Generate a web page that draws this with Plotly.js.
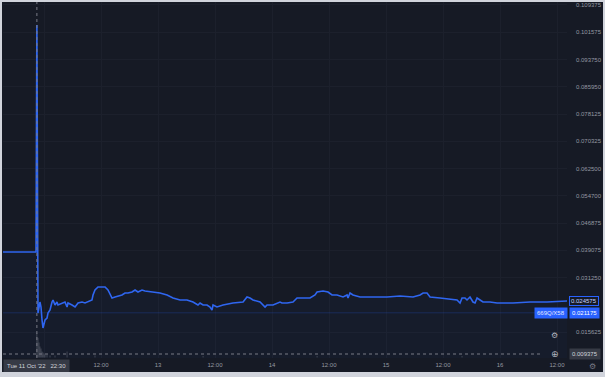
<!DOCTYPE html>
<html>
<head>
<meta charset="utf-8">
<script src="https://cdn.plot.ly/plotly-3.0.1.min.js"></script>
<style>
  html, body { margin: 0; padding: 0; background: #d1d4dc; width: 605px; height: 377px; overflow: hidden; }
  #chart { position: absolute; left: 2px; top: 2px; width: 601px; height: 370px; }
</style>
</head>
<body>
<div id="chart"></div>
<script>
// ---- data ----
const times = [
  '2022-10-11 15:00','2022-10-11 22:19','2022-10-11 22:30','2022-10-11 22:44','2022-10-11 23:09','2022-10-11 23:22',
  '2022-10-11 23:35','2022-10-11 23:47','2022-10-12 00:13','2022-10-12 00:38','2022-10-12 00:50','2022-10-12 01:16',
  '2022-10-12 01:41','2022-10-12 01:54','2022-10-12 02:19','2022-10-12 02:44','2022-10-12 02:57','2022-10-12 03:47',
  '2022-10-12 04:25','2022-10-12 04:51','2022-10-12 05:03','2022-10-12 05:54','2022-10-12 06:32','2022-10-12 07:10',
  '2022-10-12 08:00','2022-10-12 08:38','2022-10-12 09:16','2022-10-12 10:06','2022-10-12 10:19','2022-10-12 10:44',
  '2022-10-12 11:22','2022-10-12 12:13','2022-10-12 12:51','2022-10-12 13:28','2022-10-12 13:54','2022-10-12 14:19',
  '2022-10-12 14:57','2022-10-12 15:35','2022-10-12 16:25','2022-10-12 17:03','2022-10-12 17:41','2022-10-12 18:32',
  '2022-10-12 19:10','2022-10-12 19:47','2022-10-12 20:38','2022-10-12 21:16','2022-10-12 22:57','2022-10-13 00:25',
  '2022-10-13 01:54','2022-10-13 03:10','2022-10-13 04:38','2022-10-13 06:06','2022-10-13 07:22','2022-10-13 08:25',
  '2022-10-13 08:51','2022-10-13 09:29','2022-10-13 10:19','2022-10-13 10:57','2022-10-13 11:22','2022-10-13 11:35',
  '2022-10-13 12:25','2022-10-13 13:41','2022-10-13 15:47','2022-10-13 17:54','2022-10-13 18:44','2022-10-13 19:22',
  '2022-10-13 20:00','2022-10-13 21:29','2022-10-13 22:32','2022-10-13 22:57','2022-10-14 00:13','2022-10-14 01:41',
  '2022-10-14 02:06','2022-10-14 03:10','2022-10-14 04:25','2022-10-14 05:16','2022-10-14 06:32','2022-10-14 08:00',
  '2022-10-14 09:03','2022-10-14 09:29','2022-10-14 10:44','2022-10-14 11:48','2022-10-14 12:38','2022-10-14 13:41',
  '2022-10-14 14:57','2022-10-14 15:48','2022-10-14 16:00','2022-10-14 16:25','2022-10-14 17:03','2022-10-14 18:32',
  '2022-10-14 21:16','2022-10-15 00:13','2022-10-15 02:57','2022-10-15 05:41','2022-10-15 07:10','2022-10-15 07:48',
  '2022-10-15 08:38','2022-10-15 09:16','2022-10-15 11:22','2022-10-15 13:29','2022-10-15 14:57','2022-10-15 15:35',
  '2022-10-15 16:00','2022-10-15 16:38','2022-10-15 17:03','2022-10-15 17:41','2022-10-15 18:19','2022-10-15 18:44',
  '2022-10-15 19:10','2022-10-15 19:48','2022-10-15 20:25','2022-10-15 21:54','2022-10-15 23:22','2022-10-16 00:38',
  '2022-10-16 02:44','2022-10-16 06:19','2022-10-16 09:54','2022-10-16 14:10'
];
const prices = [
  0.03860,0.03860,0.10364,0.02112,0.02427,0.02284,
  0.01912,0.01682,0.01912,0.01969,0.02112,0.02198,
  0.02427,0.02485,0.02341,0.02427,0.02341,0.02399,
  0.02427,0.02284,0.02399,0.02341,0.02284,0.02399,
  0.02427,0.02399,0.02427,0.02485,0.02628,0.02771,
  0.02857,0.02857,0.02857,0.02771,0.02628,0.02542,
  0.02571,0.02600,0.02628,0.02685,0.02685,0.02714,
  0.02771,0.02714,0.02771,0.02743,0.02714,0.02685,
  0.02628,0.02542,0.02485,0.02485,0.02427,0.02341,
  0.02399,0.02341,0.02341,0.02284,0.02198,0.02341,
  0.02284,0.02341,0.02399,0.02427,0.02571,0.02542,
  0.02485,0.02427,0.02284,0.02341,0.02341,0.02427,
  0.02399,0.02399,0.02427,0.02542,0.02542,0.02542,
  0.02628,0.02714,0.02743,0.02714,0.02628,0.02628,
  0.02571,0.02628,0.02542,0.02685,0.02628,0.02571,
  0.02571,0.02571,0.02600,0.02571,0.02628,0.02685,
  0.02685,0.02571,0.02542,0.02513,0.02485,0.02399,
  0.02542,0.02542,0.02485,0.02571,0.02427,0.02399,
  0.02542,0.02485,0.02427,0.02427,0.02399,0.02399,
  0.02399,0.02427,0.02427,0.02456
];
// volume histogram (relative units)
const volTimes = ['2022-10-11 22:30','2022-10-11 22:44','2022-10-11 22:57','2022-10-11 23:09','2022-10-11 23:22',
  '2022-10-11 23:35','2022-10-11 23:47','2022-10-12 00:00','2022-10-12 00:13','2022-10-12 00:38','2022-10-12 01:16',
  '2022-10-12 02:19','2022-10-12 04:51','2022-10-12 10:44','2022-10-13 09:29','2022-10-14 09:29','2022-10-15 16:00'];
const volumes = [25,20,15,11,9,6,5,4,3,3,2,2,6,2,1.5,1.5,1.5];

const yTickVals = [0.109375,0.101575,0.093750,0.085950,0.078125,0.070325,0.062500,0.054700,0.046875,0.039075,0.031250,0.015625];
const yTickText = ['0.109375','0.101575','0.093750','0.085950','0.078125','0.070325','0.062500','0.054700','0.046875','0.039075','0.031250','0.015625'];
const xTickVals = ['2022-10-12 00:00','2022-10-12 12:00','2022-10-13 00:00','2022-10-13 12:00','2022-10-14 00:00','2022-10-14 12:00','2022-10-15 00:00','2022-10-15 12:00','2022-10-16 00:00','2022-10-16 12:00'];
const xTickText = ['','12:00','13','12:00','14','12:00','15','12:00','16','12:00'];

const crossTime = '2022-10-11 22:30';
const crossLabel = "Tue 11 Oct '22&nbsp;&nbsp;&nbsp;22:30";
const crossPrice = 0.009375;
const crossPriceText = '0.009375';
const lastPrice = 0.02456;
const lastPriceText = '0.024575';
const linePrice = 0.021175;
const linePriceText = '0.021175';
const symbolText = '669Q/X58';

const BG = '#161a25';
const GRID = '#1c202c';
const TXT = '#9598a1';
const BLUE = '#2962ff';
const FONT = 'Liberation Sans, Arial, sans-serif';

const traces = [
  {
    x: volTimes, y: volumes, type: 'bar', yaxis: 'y2',
    marker: { color: 'rgba(140,143,155,0.5)', line: { width: 0 } },
    width: 9 * 60 * 1000, hoverinfo: 'skip'
  },
  {
    x: times, y: prices, type: 'scatter', mode: 'lines',
    line: { color: '#2f66f0', width: 1.6, shape: 'linear' },
    fill: 'tozeroy', fillcolor: 'rgba(41,98,255,0.03)', hoverinfo: 'skip'
  }
];

const layout = {
  width: 601, height: 370,
  margin: { l: 1, r: 36, t: 0, b: 14, pad: 0 },
  paper_bgcolor: BG, plot_bgcolor: BG,
  showlegend: false,
  font: { family: FONT, size: 6, color: TXT },
  xaxis: {
    type: 'date',
    range: ['2022-10-11 15:22', '2022-10-16 14:06'],
    tickmode: 'array', tickvals: xTickVals, ticktext: xTickText,
    showgrid: true, gridcolor: GRID, gridwidth: 1,
    zeroline: false, showline: false, ticks: '',
    tickfont: { family: FONT, size: 6, color: TXT },
    ticklabelstandoff: 2
  },
  yaxis: {
    side: 'right',
    range: [0.00823, 0.11023],
    tickmode: 'array', tickvals: yTickVals, ticktext: yTickText,
    showgrid: true, gridcolor: GRID, gridwidth: 1,
    zeroline: false, showline: false, ticks: '',
    tickfont: { family: FONT, size: 6, color: TXT },
    ticklabelstandoff: 8
  },
  yaxis2: {
    overlaying: 'y', range: [-0.6, 360], visible: false, fixedrange: true
  },
  shapes: [
    { type: 'line', xref: 'paper', x0: 0, x1: 1, yref: 'y', y0: linePrice, y1: linePrice,
      line: { color: 'rgba(41,98,255,0.22)', width: 1 } },
    { type: 'line', xref: 'paper', x0: 0, x1: 0.955, yref: 'y', y0: crossPrice, y1: crossPrice,
      line: { color: '#787b86', width: 1, dash: '3px,3px' } },
    { type: 'line', xref: 'x', x0: crossTime, x1: crossTime, yref: 'paper', y0: 0, y1: 1,
      line: { color: '#787b86', width: 1, dash: '3px,3px' } }
  ],
  annotations: [
    { xref: 'x', x: crossTime, yref: 'paper', y: 0, yanchor: 'top', xanchor: 'center', yshift: -1,
      text: crossLabel, showarrow: false, bgcolor: '#363a45', borderpad: 3,
      font: { family: FONT, size: 6, color: '#d1d4dc' } },
    { xref: 'paper', x: 1, xanchor: 'left', xshift: 2, yref: 'y', y: crossPrice, yanchor: 'middle',
      text: crossPriceText, showarrow: false, bgcolor: '#363a45', borderpad: 2,
      font: { family: FONT, size: 6, color: '#d1d4dc' } },
    { xref: 'paper', x: 1, xanchor: 'left', xshift: 2, yref: 'y', y: lastPrice, yanchor: 'middle',
      text: lastPriceText, showarrow: false, bgcolor: BG, bordercolor: BLUE, borderwidth: 1, borderpad: 1,
      font: { family: FONT, size: 6, color: '#c8d4ff' } },
    { xref: 'paper', x: 1, xanchor: 'left', xshift: 2, yref: 'y', y: linePrice, yanchor: 'middle',
      text: linePriceText, showarrow: false, bgcolor: BLUE, borderpad: 2,
      font: { family: FONT, size: 6, color: '#ffffff' } },
    { xref: 'paper', x: 1, xanchor: 'right', xshift: 1, yref: 'y', y: linePrice, yanchor: 'middle',
      text: symbolText, showarrow: false, bgcolor: BLUE, borderpad: 2,
      font: { family: FONT, size: 6, color: '#e0e6ff' } },
    { xref: 'paper', x: 0.978, xanchor: 'center', yref: 'y', y: 0.0146, yanchor: 'middle',
      text: '⚙', showarrow: false, font: { family: 'DejaVu Sans', size: 8, color: '#b2b5be' } },
    { xref: 'paper', x: 0.978, xanchor: 'center', yref: 'y', y: crossPrice, yanchor: 'middle',
      text: '⊕', showarrow: false, font: { family: 'DejaVu Sans', size: 9, color: '#b2b5be' } },
    { xref: 'paper', x: 1.045, xanchor: 'center', yref: 'paper', y: 0, yanchor: 'top', yshift: -2,
      text: '⚙', showarrow: false, font: { family: 'DejaVu Sans', size: 8, color: '#787b86' } }
  ]
};

Plotly.newPlot('chart', traces, layout, { displayModeBar: false, staticPlot: true });
</script>
</body>
</html>
